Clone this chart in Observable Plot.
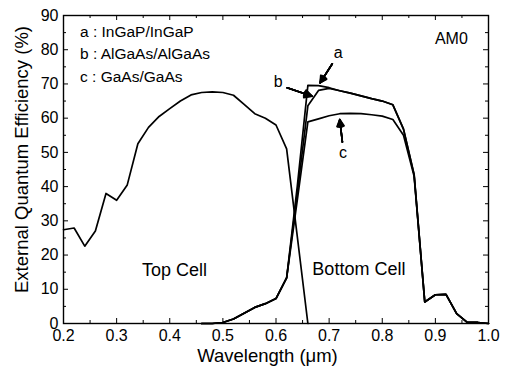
<!DOCTYPE html>
<html><head><meta charset="utf-8">
<script src="https://cdn.jsdelivr.net/npm/d3@7"></script>
<script src="https://cdn.jsdelivr.net/npm/@observablehq/plot@0.6"></script>
<style>body{margin:0;background:#fff}</style>
</head><body><div id="chart"></div>
<script>
// Top cell EQE
const topWavelength = [0.20,0.22,0.24,0.26,0.28,0.30,0.32,0.34,0.36,0.38,0.40,0.42,0.44,0.46,0.48,0.50,0.52,0.54,0.56,0.58,0.60,0.62,0.66];
const topCell       = [27.4,27.9,22.6,27.0,38.0,36.0,40.5,52.5,57.3,60.5,62.8,65.0,66.8,67.5,67.7,67.5,66.7,64.0,61.3,60.0,58.0,51.0,0.0];
// Bottom cell EQE
const bottomWavelength = [0.46,0.48,0.50,0.52,0.54,0.56,0.58,0.60,0.62,0.64,0.66,0.68,0.70,0.72,0.74,0.76,0.78,0.80,0.82,0.84,0.86,0.88,0.90,0.92,0.94,0.96,0.98,1.00];
const bottomA = [0,0,0.3,1.3,3.0,4.7,5.8,7.3,13.3,40,69.6,69.5,68.9,68.0,67.3,66.5,65.7,65.0,63.9,56.8,43.5,6.3,8.4,8.5,2.9,0.3,0.3,0];
const bottomB = [0,0,0.3,1.3,3.0,4.7,5.8,7.3,13.3,38,63.6,68.1,68.7,68.0,67.3,66.5,65.7,65.0,63.9,56.8,43.5,6.3,8.4,8.5,2.9,0.3,0.3,0];
const bottomC = [0,0,0.3,1.3,3.0,4.7,5.8,7.3,13.3,36,58.9,59.8,60.7,61.3,61.4,61.3,61.0,60.6,59.6,55.0,43.0,6.3,8.4,8.5,2.9,0.3,0.3,0];

const xTicks = [0.2,0.3,0.4,0.5,0.6,0.7,0.8,0.9,1.0];
const xMinorTicks = [0.25,0.35,0.45,0.55,0.65,0.75,0.85,0.95];
const yTicks = [0,10,20,30,40,50,60,70,80,90];
const yMinorTicks = [5,15,25,35,45,55,65,75,85];

const legendLabels = ["a : InGaP/InGaP", "b : AlGaAs/AlGaAs", "c : GaAs/GaAs"];
const legendX = [0.231, 0.231, 0.231];
const legendY = [85.1, 78.7, 72.1];

const curveLabels = ["a", "b", "c"];
const curveLabelX = [0.717, 0.604, 0.726];
const curveLabelY = [79.0, 70.6, 49.8];
const arrowX1 = [0.706, 0.621, 0.725];
const arrowY1 = [75.9, 68.9, 53.0];
const arrowX2 = [0.683, 0.668, 0.720];
const arrowY2 = [70.3, 66.4, 59.6];

const regionLabels = ["Top Cell", "Bottom Cell", "AM0"];
const regionX = [0.409, 0.756, 0.961];
const regionY = [15.65, 15.9, 83.2];

const xLabel = "Wavelength (\u03bcm)";
const yLabel = "External Quantum Efficiency (%)";

const W = 507, H = 371;
const mT = 15, mR = 19, mB = 48, mL = 63;
const pw = W - mL - mR, ph = H - mT - mB;

const topTable = topWavelength.map((w, i) => ({w, v: topCell[i]}));
const bottomTable = [];
[["a", bottomA], ["b", bottomB], ["c", bottomC]].forEach(([s, arr]) => {
  bottomWavelength.forEach((w, i) => bottomTable.push({s, w, v: arr[i]}));
});
const arrows = curveLabels.map((k, i) => ({x1: arrowX1[i], y1: arrowY1[i], x2: arrowX2[i], y2: arrowY2[i]}));
const legend = legendLabels.map((t, i) => ({t, x: legendX[i], y: legendY[i]}));
const curveLab = curveLabels.map((t, i) => ({t, x: curveLabelX[i], y: curveLabelY[i]}));
const regions = regionLabels.map((t, i) => ({t, x: regionX[i], y: regionY[i]}));

const headMarks = [12, 24, 36, 48, 56].map(a => Plot.arrow(arrows, {
  x1: "x1", y1: "y1", x2: "x2", y2: "y2", stroke: "black", strokeWidth: 1.6, headLength: 8, headAngle: a
}));

const chart = Plot.plot({
  width: W, height: H,
  marginTop: mT, marginRight: mR, marginBottom: mB, marginLeft: mL,
  style: {fontFamily: "'Liberation Sans', Arial, sans-serif", fontSize: "16px", background: "white", color: "black"},
  x: {domain: [0.2, 1.0]},
  y: {domain: [0, 90]},
  marks: [
    Plot.line(topTable, {x: "w", y: "v", stroke: "black", strokeWidth: 1.7}),
    Plot.line(bottomTable, {x: "w", y: "v", z: "s", stroke: "black", strokeWidth: 1.7}),
    // inward ticks
    Plot.tickX(xTicks, {x: d => d, insetTop: ph - 5, stroke: "black"}),
    Plot.tickX(xMinorTicks, {x: d => d, insetTop: ph - 3, stroke: "black"}),
    Plot.tickX(xTicks, {x: d => d, insetBottom: ph - 5, stroke: "black"}),
    Plot.tickX(xMinorTicks, {x: d => d, insetBottom: ph - 3, stroke: "black"}),
    Plot.tickY(yTicks, {y: d => d, insetRight: pw - 5, stroke: "black"}),
    Plot.tickY(yMinorTicks, {y: d => d, insetRight: pw - 3, stroke: "black"}),
    Plot.tickY(yTicks, {y: d => d, insetLeft: pw - 5, stroke: "black"}),
    Plot.tickY(yMinorTicks, {y: d => d, insetLeft: pw - 3, stroke: "black"}),
    Plot.frame({stroke: "black", strokeWidth: 1.4}),
    Plot.axisX(xTicks, {tickSize: 0, tickPadding: 6, tickFormat: d => d.toFixed(1), label: null, fontSize: 16}),
    Plot.axisY(yTicks, {tickSize: 0, tickPadding: 5, label: null, fontSize: 16}),
    ...headMarks,
    Plot.text(legend, {x: "x", y: "y", text: "t", textAnchor: "start", fontSize: 15.5, fill: "black"}),
    Plot.text(curveLab, {x: "x", y: "y", text: "t", fontSize: 16, fill: "black"}),
    Plot.text(regions.slice(0, 2), {x: "x", y: "y", text: "t", fontSize: 18, fill: "black"}),
    Plot.text(regions.slice(2), {x: "x", y: "y", text: "t", textAnchor: "end", fontSize: 16, fill: "black"}),
    Plot.text([xLabel], {frameAnchor: "bottom", textAnchor: "middle", lineAnchor: "middle", dx: -8.5, dy: 33, fontSize: 18.5, fill: "black"}),
    Plot.text([yLabel], {frameAnchor: "left", textAnchor: "middle", lineAnchor: "middle", rotate: -90, dx: -41, dy: -10, fontSize: 18.5, fill: "black"})
  ]
});
document.getElementById("chart").appendChild(chart);
</script>
</body></html>
